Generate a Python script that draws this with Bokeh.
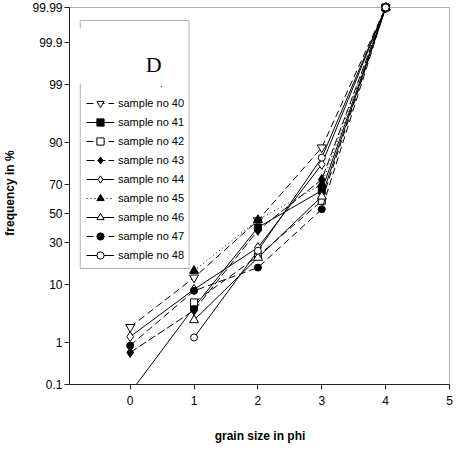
import numpy as np
from statistics import NormalDist
from bokeh.plotting import figure
from bokeh.models import Range1d, FixedTicker, BoxAnnotation, Label, Legend, LegendItem
from bokeh.embed import file_html
from bokeh.resources import INLINE

nan = float("nan")

# grain size (phi) and cumulative frequency in %
phi = [0, 1, 2, 3, 4]
s40 = [2.0, 12.3, 45.0, 88.3, 99.99]
s41 = [0.06, 4.5, 40.0, 66.0, 99.99]
s42 = [nan, 5.4, 22.0, 59.0, 99.99]
s43 = [0.6, 4.0, 38.0, 73.0, 99.99]
s44 = [1.3, 8.5, 26.9, 81.2, 99.99]
s45 = [nan, 15.0, 45.3, 70.0, 99.99]
s46 = [nan, 2.7, 21.2, 62.0, 99.99]
s47 = [0.85, 8.1, 16.4, 53.0, 99.99]
s48 = [nan, 1.25, 25.0, 84.3, 99.99]

labels = ["sample no 40", "sample no 41", "sample no 42", "sample no 43", "sample no 44",
          "sample no 45", "sample no 46", "sample no 47", "sample no 48"]

y_tick_pct = [0.1, 1, 10, 30, 50, 70, 90, 99, 99.9, 99.99]
y_tick_labels = ["0.1", "1", "10", "30", "50", "70", "90", "99", "99.9", "99.99"]
x_ticks = [0, 1, 2, 3, 4, 5]

nd = NormalDist()


def probit(p):
    return nd.inv_cdf(p / 100.0)


def to_z(vals):
    return np.array([probit(v) if v == v else np.nan for v in vals])


z_lo = probit(0.1)
z_hi = probit(99.99)
pxz = 377.0 / (z_hi - z_lo)
pad = 6.0 / pxz
z_top = z_hi + pad

X0, X1 = -0.95, 5.015
FRAME_W = 389.0
pxx = FRAME_W / (X1 - X0)


def px2x(px):
    return X0 + (px - 69) / pxx


def py2z(py):
    return z_top - (py - 9) / pxz


p = figure(width=454, height=447,
           x_range=Range1d(X0, X1), y_range=Range1d(z_lo, z_top),
           output_backend="svg", toolbar_location=None,
           min_border_left=61, min_border_right=4, min_border_top=1, min_border_bottom=63)
p.xgrid.visible = False
p.ygrid.visible = False
p.outline_line_color = None
p.background_fill_color = "white"
p.border_fill_color = "white"

TICK_FONT = "'Liberation Sans Narrow', 'Liberation Sans', Arial, sans-serif"
LAB_FONT = "'Liberation Sans', Arial, sans-serif"

# x axis
p.xaxis.ticker = FixedTicker(ticks=x_ticks)
p.xaxis.bounds = (X0, 5)
p.xaxis.axis_label = "grain size in phi"
# y axis
zt = [probit(v) for v in y_tick_pct]
p.yaxis.ticker = FixedTicker(ticks=zt)
p.yaxis.major_label_overrides = {t: l for t, l in zip(zt, y_tick_labels)}
p.yaxis.bounds = (z_lo, z_hi)
p.yaxis.axis_label = "frequency in %"

for ax in (p.xaxis, p.yaxis):
    ax.axis_line_color = "#222222"
    ax.axis_line_width = 1
    ax.major_tick_line_color = "#222222"
    ax.major_tick_in = 0
    ax.major_tick_out = 5
    ax.minor_tick_line_color = None
    ax.major_label_text_font = TICK_FONT
    ax.major_label_text_font_size = "12px"
    ax.major_label_text_color = "black"
    ax.axis_label_text_font = LAB_FONT
    ax.axis_label_text_font_size = "12px"
    ax.axis_label_text_font_style = "bold"
    ax.axis_label_text_color = "black"
p.xaxis.major_label_standoff = 6
p.xaxis.axis_label_standoff = 21
p.yaxis.major_label_standoff = 2
p.yaxis.axis_label_standoff = 12

# frame border (top and right)
p.add_layout(BoxAnnotation(left=X0, right=5, bottom=z_lo, top=z_hi,
                           fill_color=None, line_color="black", line_width=1,
                           level="underlay"))

series = [s40, s41, s42, s43, s44, s45, s46, s47, s48]
markers = ["inverted_triangle", "square", "square", "diamond", "diamond",
           "triangle", "triangle", "circle", "circle"]
fills = ["white", "black", "white", "black", "white", "black", "white", "black", "white"]
sizes = [9, 7, 7, 10, 10, 9, 9, 7, 7]
dashes = ["7 4", "solid", "7 4", "8 3", "solid", "1 3", "solid", "7 4", "solid"]

items = []
for s, m, f, sz, d, lab in zip(series, markers, fills, sizes, dashes, labels):
    z = to_z(s)
    lr = p.line(phi, z, line_color="black", line_width=1, line_dash=d)
    sr = p.scatter(phi, z, marker=m, size=sz, fill_color=f, line_color="black", line_width=1)
    items.append(LegendItem(label=lab, renderers=[lr, sr]))

# legend frame with title letter
p.add_layout(BoxAnnotation(left=px2x(80), right=px2x(191), top=py2z(28), bottom=py2z(276),
                           fill_color="white", fill_alpha=1.0, line_color="black", line_width=1))
p.add_layout(BoxAnnotation(left=px2x(77), right=px2x(83), top=py2z(36), bottom=py2z(91),
                           fill_color="white", fill_alpha=1.0, line_color=None))
p.add_layout(Label(x=px2x(155), y=py2z(72), text="D", text_font="'Liberation Serif', serif",
                   text_font_size="22px", text_align="center", text_baseline="middle",
                   text_color="black"))
p.add_layout(Label(x=px2x(163), y=py2z(90), text=".", text_font=LAB_FONT,
                   text_font_size="11px", text_align="center", text_baseline="middle",
                   text_color="black"))

legend = Legend(items=items, location=(17, 120), orientation="vertical",
                border_line_color=None, background_fill_alpha=0.0,
                padding=0, margin=0, spacing=1, label_height=18, glyph_height=18,
                glyph_width=28, label_standoff=4,
                label_text_font=LAB_FONT, label_text_font_size="11px",
                label_text_color="black")
p.add_layout(legend)

open("out.html", "w").write(file_html(p, INLINE))
